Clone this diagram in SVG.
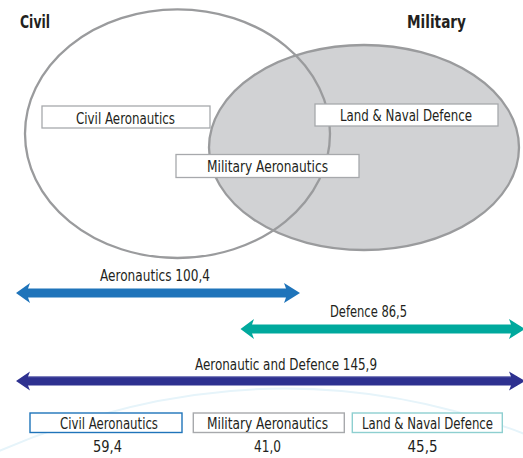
<svg xmlns="http://www.w3.org/2000/svg" width="523" height="458" viewBox="0 0 523 458">
<style>
text{font-family:"DejaVu Sans Condensed","DejaVu Sans","Liberation Sans",sans-serif;font-stretch:condensed;fill:#231f20;font-size:16px}
.hd{font-weight:bold;font-size:18px}
.box{fill:#fff;stroke:#a7a9ac;stroke-width:1.3}
.c{text-anchor:middle}
</style>
<rect width="523" height="458" fill="#fff"/>
<path d="M -10 455 Q 270 330 540 440" fill="none" stroke="#e6f4fa" stroke-width="2"/>
<g id="venn">
<ellipse cx="177.5" cy="133.7" rx="152.5" ry="124.3" fill="#fff"/>
<ellipse id="military-set" cx="364" cy="147.5" rx="155" ry="102.5" fill="#d1d2d4" stroke="#9a9b9d" stroke-width="2.3"/>
<ellipse id="civil-set" cx="177.5" cy="133.7" rx="152.5" ry="124.3" fill="none" stroke="#9a9b9d" stroke-width="2.3"/>
</g>
<g id="label-civil"><text class="hd" x="20" y="28" textLength="30" lengthAdjust="spacingAndGlyphs">Civil</text></g>
<g id="label-military"><text class="hd" x="407" y="28" textLength="59" lengthAdjust="spacingAndGlyphs">Military</text></g>
<g id="node-civil-aero">
<rect class="box" x="42" y="106" width="168" height="22"/>
<text x="76" y="123.5" textLength="99" lengthAdjust="spacingAndGlyphs">Civil Aeronautics</text>
</g>
<g id="node-land-naval">
<rect class="box" x="315" y="104" width="183" height="22"/>
<text x="340" y="121" textLength="132" lengthAdjust="spacingAndGlyphs">Land &amp; Naval Defence</text>
</g>
<g id="node-military-aero">
<rect class="box" x="176" y="154.5" width="183" height="23"/>
<text x="207" y="171.5" textLength="121" lengthAdjust="spacingAndGlyphs">Military Aeronautics</text>
</g>
<g id="arrows">
<polygon fill="#1f74ba" points="16,293 30,283 28,288.5 286,288.5 284,283 300,293 284,303 286,297.5 28,297.5 30,303"/>
<polygon fill="#00a99d" points="240.5,329 254,319 252,324.5 511,324.5 509,319 525,329 509,339 511,333.5 252,333.5 254,339"/>
<polygon fill="#2e3190" points="16,381 30,371.5 28,376.5 511,376.5 509,371.5 525,381 509,390.5 511,385.5 28,385.5 30,390.5"/>
<line x1="28" y1="376.8" x2="511" y2="376.8" stroke="#6d70b5" stroke-width="0.8"/>
</g>
<g id="arrow-labels">
<text x="100" y="280.5" textLength="110" lengthAdjust="spacingAndGlyphs">Aeronautics 100,4</text>
<text x="330" y="316.5" textLength="77" lengthAdjust="spacingAndGlyphs">Defence 86,5</text>
<text x="195" y="370" textLength="182" lengthAdjust="spacingAndGlyphs">Aeronautic and Defence 145,9</text>
</g>
<g id="legend-civil">
<rect x="30" y="413" width="152" height="19.5" fill="#fff" stroke="#1f74ba" stroke-width="1.4"/>
<text x="60" y="428.5" textLength="98" lengthAdjust="spacingAndGlyphs">Civil Aeronautics</text>
<text class="c" x="107.5" y="452" textLength="29" lengthAdjust="spacingAndGlyphs">59,4</text>
</g>
<g id="legend-military">
<rect x="193.3" y="413" width="151" height="19.5" fill="#fff" stroke="#a7a9ac" stroke-width="1.4"/>
<text x="207" y="428.5" textLength="121" lengthAdjust="spacingAndGlyphs">Military Aeronautics</text>
<text class="c" x="267.5" y="452" textLength="27" lengthAdjust="spacingAndGlyphs">41,0</text>
</g>
<g id="legend-land">
<rect x="352.3" y="413" width="150" height="19.5" fill="#fff" stroke="#8ecfd0" stroke-width="1.4"/>
<text x="362" y="428.5" textLength="131" lengthAdjust="spacingAndGlyphs">Land &amp; Naval Defence</text>
<text class="c" x="422.5" y="452" textLength="30" lengthAdjust="spacingAndGlyphs">45,5</text>
</g>
</svg>
